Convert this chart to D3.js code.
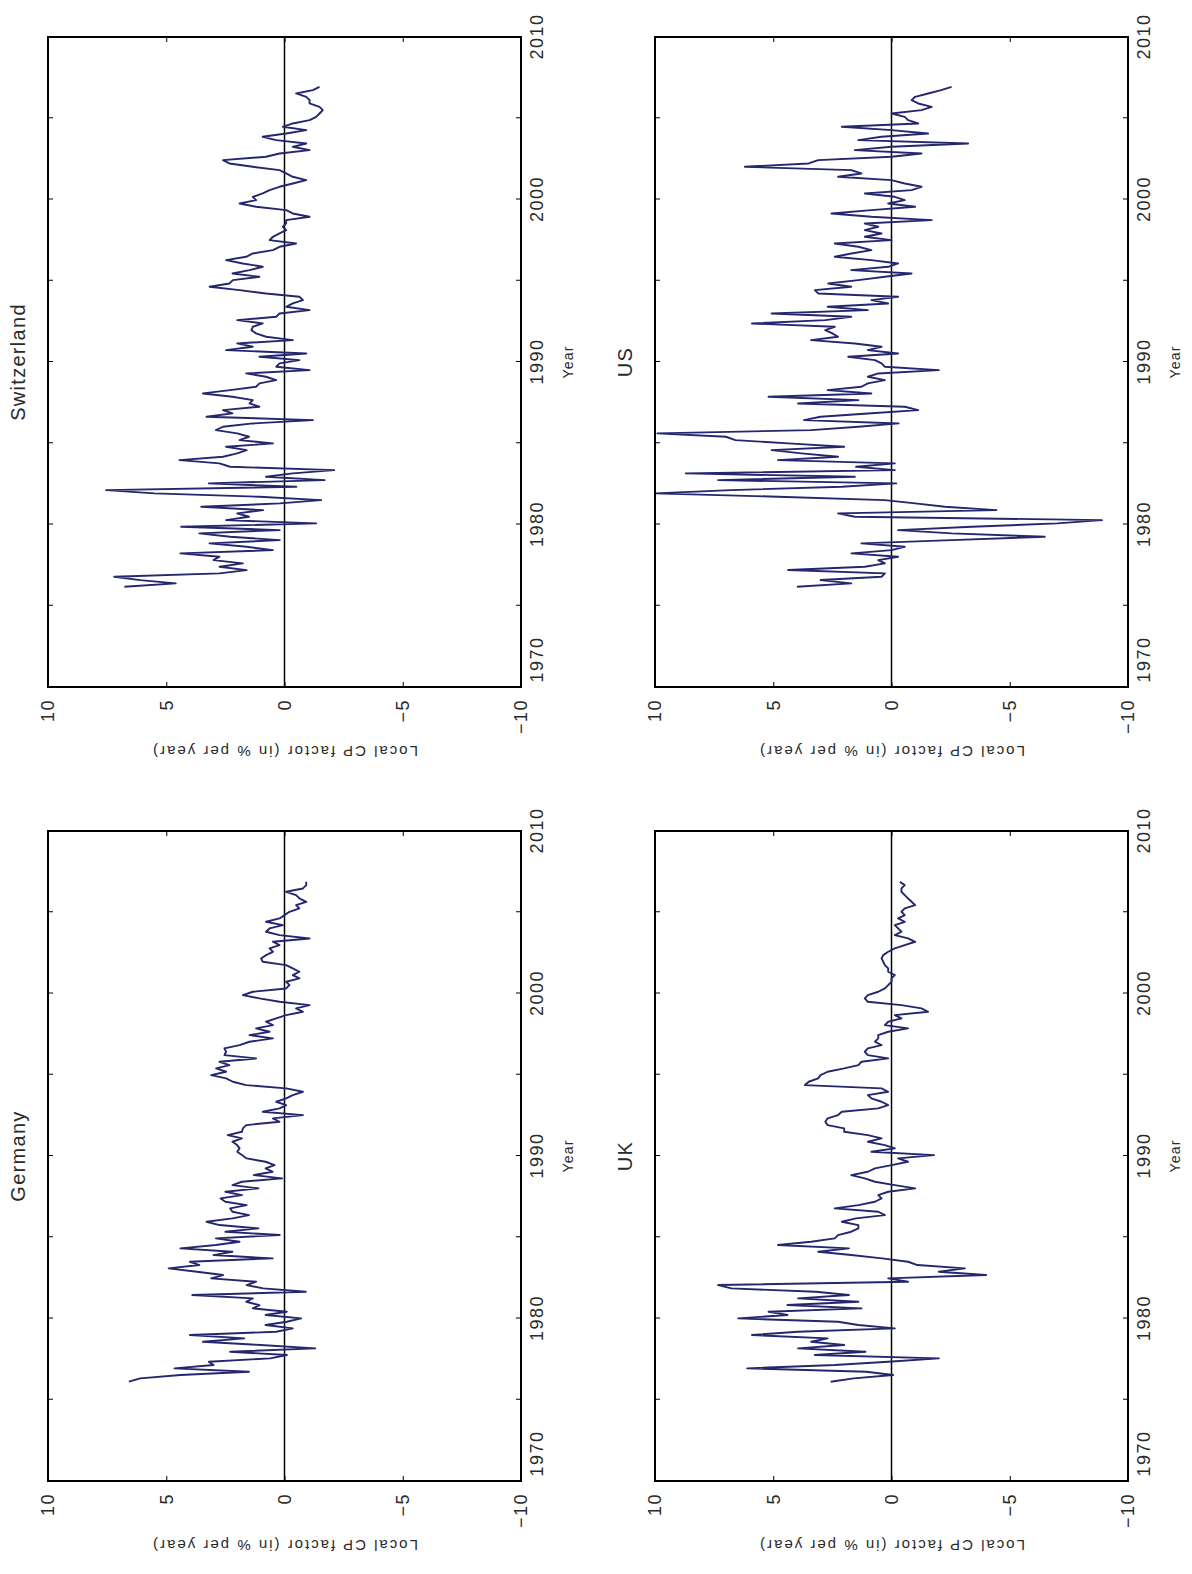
<!DOCTYPE html>
<html>
<head>
<meta charset="utf-8">
<script src="https://cdn.jsdelivr.net/npm/d3@7"></script>
<style>
  body { margin: 0; background: #fff; }
  text { font-family: "Liberation Sans", Arial, sans-serif; fill: #2a2a2a; }
</style>
</head>
<body>
<script>
// local CP factor, % per year, sampled about every 0.205 years
var germany = [6.58, 6.1, 4.4, 1.5, 4.65, 3.0, 3.2, 0.6, -0.1, 2.3, -1.3, 1.0, 3.45, 1.7, 4.0, 0.35, -0.35, 0.8, -0.1, -0.7,
  0.8, -0.1, 1.34, 1.06, 1.62, 1.34, 3.9, -0.9, 0.9, 1.6, 1.2, 3.1, 2.6, 3.7, 4.9, 3.6, 4.0, 0.5, 3.0, 2.2,
  4.4, 2.9, 1.9, 2.9, 0.2, 2.5, 1.1, 2.75, 3.3, 2.2, 1.5, 2.2, 2.3, 1.6, 2.5, 2.7, 1.8, 2.5, 1.1, 2.2,
  1.8, 0.1, 1.3, 0.5, 0.8, 0.42, 0.8, 1.6, 1.8, 2.0, 1.9, 2.0, 2.2, 1.8, 2.4, 1.8,
  1.76, 1.62, 0.21, 0.49, -0.78, 0.92, 0.21, -0.07, 0.35, -0.07, -0.35, -0.78, -0.07, 1.62, 2.18, 2.47, 3.10, 2.47, 2.89, 2.33,
  2.75, 1.20, 2.54, 2.47, 2.54, 1.90, 1.48, 0.49, 1.48, 0.63, 1.20, 0.49, 0.78, 0.35, -0.07, -0.78, -0.49, -1.06, 0.21, 1.06,
  1.76, 1.34, -0.07, -0.21, -0.07, -0.63, -0.35, -0.63, -0.35, -0.07, 0.92, 0.99, 0.78, 0.49, 0.63, 0.21, 0.49, -1.06, 0.21, 0.78,
  0.63, 0.07, 0.78, 0.21, 0, -0.21, -0.63, -0.49, -0.92, -0.63, -0.49, -0.07, -0.78, -0.92, -0.92];

var switzerland = [6.77, 4.6, 6.1, 7.2, 2.75, 1.6, 2.75, 1.76, 3.0, 2.75, 4.4, 0.49, 1.6, 3.17, 0.2, 2.3, 3.6, 0.2, 4.37, -1.34,
  2.47, 1.5, 2.0, 0.9, 3.52, 0.2, -1.55, 1.06, 5.5, 7.54, -0.5, 3.2, -1.7, 0.78, -0.35, -2.1, 2.3, 2.75, 4.44, 2.6,
  2.0, 1.6, 2.47, 0.49, 1.9, 1.5, 2.0, 2.9, 2.6, 1.34, -1.2, 3.3, 2.2, 2.6, 1.06, 1.48, 1.34, 2.2, 3.45, 2.3,
  1.2, 1.06, 0.35, 0.78, 1.62, -1.06, 0.35, 0.21, -0.63, 1.06, -0.92, 2.47, 1.34, 2.0, -0.35, 0.78, 1.2, 1.4,
  1.34, 0.92, 2.0, 0.35, 0.21, -1.06, -0.07, -0.35, -0.78, -0.63, 0.78, 1.9, 3.17, 2.33, 2.18, 1.06, 2.2, 1.48, 0.92, 1.76,
  2.47, 1.62, 1.34, 0.49, 0.21, -0.49, 0.63, 0.49, 0.21, -0.07, 0.07, -0.07, -0.07, -1.06, -0.35, -0.07, 1.2, 1.9, 1.2, 1.34,
  0.92, 0.63, 0.21, -0.35, -0.92, -0.35, -0.07, 0.21, 1.34, 2.33, 2.6, 0.78, 0.21, -1.06, -0.35, -0.92, 0.35, 0.92, -0.07, -0.92,
  0.07, -0.35, -1.06, -1.34, -1.48, -1.62, -1.48, -1.06, -1.06, -0.92, -0.49, -1.2, -1.48];

var uk = [2.57, 1.6, -0.07, 1.06, 6.1, 2.4, 0.14, -2.0, 3.24, 1.1, 3.95, 2.0, 3.4, 2.7, 5.9, 3.95, -0.14, 1.4, 2.26, 6.48,
  4.4, 5.2, 1.27, 4.4, 1.4, 3.95, 1.8, 3.2, 6.77, 7.33, -0.7, 0.14, -4.0, -2.0, -3.1, -1.1, -0.7, 0.4, 1.7, 3.1,
  1.8, 4.8, 3.4, 2.4, 2.26, 1.7, 1.4, 1.4, 2.1, 1.5, 0.28, 0.56, 2.4, 1.4, 0.7, 0.42, 0.56, 0.14, -1.0, -0.14,
  0.70, 1.13, 1.7, 1.0, 0.7, 0, -0.7, -0.28, -1.8, 0.85, -0.14, 0.28, 1.0, 0.42, 1.0, 2.0,
  2.0, 2.7, 2.8, 2.7, 2.26, 2.1, 0.56, 0.14, 0.42, 0.85, 1.0, 0.14, 0.42, 3.66, 3.5, 3.1, 3.0, 2.7, 2.0, 1.4,
  1.27, 0.14, 1.0, 1.13, 1.0, 0.42, 0.7, 0.56, 0.56, 0.14, -0.7, 0.28, 0.14, -0.42, -0.14, -1.55, -1.27, -0.42, 1.0, 1.13,
  1.0, 0.56, 0.28, 0.14, 0, 0, -0.14, 0.14, 0.14, 0.28, 0.35, 0.42, 0.35, 0.14, -0.14, -0.56, -1.0, -0.7, -0.14, -0.42,
  -0.28, -0.14, -0.56, -0.28, -0.56, -0.42, -0.56, -1.0, -0.85, -0.7, -0.56, -0.42, -0.42, -0.56, -0.35];

var us = [4.0, 1.7, 3.0, 0.42, 0.28, 4.37, 1.13, 0.28, 0.56, -0.28, 1.69, 0, -0.56, 1.27, -2.54, -6.48, -2.54, -0.28, -3.4, -7.0,
  -8.9, 1.55, 2.26, -4.44, -2.26, -1.0, 0.28, 4.8, 10, 6.8, 2.1, -0.2, 7.33, 1.55, 8.7, -0.14, 1.5, -0.14, 4.8, 2.26,
  3.8, 5.07, 2.0, 4.37, 6.6, 7.0, 9.9, 3.4, 1.4, -0.3, 3.7, 3.0, 1.0, -1.13, -0.56, 3.95, 1.4, 5.2, 0.85, 2.7,
  1.27, 1.0, 0.28, 1.0, 0.56, -2.0, 0.28, 0.42, 0.7, 1.83, -0.28, 1.0, 0.42, 1.55, 3.4, 2.26, 2.5, 2.8,
  2.4, 5.9, 2.8, 1.7, 5.07, 1.0, 2.7, 0.14, 0.85, -0.28, 3.1, 3.24, 1.7, 2.68, 1.4, 0.28, -0.85, 1.7, 0.14, -0.28,
  0.85, 2.4, 1.7, 0.85, 1.4, 2.4, 0, 1.13, 0.42, 1.13, 0.56, 1.13, -1.7, 0.85, 2.54, 0.85, -1.0, 0.14, -0.56, -0.14,
  1.13, -0.85, -1.27, -0.56, 0, 2.26, 1.27, 1.7, 6.2, 3.5, 3.1, 0, -1.27, 1.55, 0, -3.24, 1.4, 0.42, -1.55, 0,
  2.1, -1.13, -0.7, -0.56, 0, -1.27, -1.7, -1.13, -0.85, -1.0, -1.55, -2.1, -2.54];

var countries = ["Germany", "Switzerland", "UK", "US"];
var firstYear = [1976.11, 1976.17, 1976.11, 1976.17];
var yearStep = 0.2051;
var yearTicks = [1970, 1975, 1980, 1985, 1990, 1995, 2000, 2005, 2010];
var valueTicks = [-10, -5, 0, 5, 10];

var pageW = 1192, pageH = 1574;
var svg = d3.select("body").append("svg")
  .attr("width", pageW)
  .attr("height", pageH);

// the figure is laid out landscape and then turned onto its side
var fig = svg.append("g")
  .attr("transform", `translate(0, ${pageH}) rotate(-90)`);

var plotW = 650, plotH = 473;
var origins = [[93, 48], [887, 48], [93, 655], [887, 655]];
var series = [germany, switzerland, uk, us];

countries.forEach(function(name, i) {
  var data = series[i].map(function(v, k) { return {t: firstYear[i] + k * yearStep, v: v}; });

  var x = d3.scaleLinear().domain([1970, 2010]).range([0, plotW]);
  var y = d3.scaleLinear().domain([-10, 10]).range([plotH, 0]);

  var g = fig.append("g")
    .attr("transform", `translate(${origins[i][0]}, ${origins[i][1]})`);

  var bottom = g.append("g")
    .attr("transform", `translate(0, ${plotH})`)
    .call(d3.axisBottom(x).tickValues(yearTicks).tickSizeInner(-5).tickSizeOuter(0).tickPadding(9)
      .tickFormat(d => d % 10 === 0 ? d : ""));
  bottom.selectAll("text").filter(d => d === 1970).attr("dx", 27);

  g.append("g")
    .call(d3.axisTop(x).tickValues(yearTicks).tickSizeInner(-5).tickSizeOuter(0).tickFormat(""));

  g.append("g")
    .call(d3.axisLeft(y).tickValues(valueTicks).tickSizeInner(-5).tickSizeOuter(0).tickPadding(12)
      .tickFormat(d => d < 0 ? "\u2212" + (-d) : d));

  g.append("g")
    .attr("transform", `translate(${plotW}, 0)`)
    .call(d3.axisRight(y).tickValues(valueTicks).tickSizeInner(-5).tickSizeOuter(0).tickFormat(""));

  g.selectAll(".domain").remove();
  g.selectAll(".tick line").attr("stroke", "#000").attr("stroke-width", 1);
  g.selectAll(".tick text")
    .attr("font-family", "Liberation Sans, Arial, sans-serif")
    .attr("font-size", 18)
    .attr("letter-spacing", "1.5px")
    .attr("fill", "#2a2a2a");

  // zero line
  g.append("line")
    .attr("x1", x(1970)).attr("x2", x(2010))
    .attr("y1", y(0)).attr("y2", y(0))
    .attr("stroke", "#000")
    .attr("stroke-width", 1.5);

  var line = d3.line()
    .x(d => x(d.t))
    .y(d => y(d.v));

  g.append("path")
    .datum(data)
    .attr("d", line)
    .attr("fill", "none")
    .attr("stroke", "#24266e")
    .attr("stroke-width", 1.9)
    .attr("stroke-linejoin", "round");

  g.append("rect")
    .attr("width", plotW)
    .attr("height", plotH)
    .attr("fill", "none")
    .attr("stroke", "#000")
    .attr("stroke-width", 2);

  g.append("text")
    .attr("class", "lbl")
    .attr("x", plotW / 2)
    .attr("y", -23)
    .attr("text-anchor", "middle")
    .attr("font-size", 20)
    .attr("letter-spacing", "1.3px")
    .text(name);

  g.append("text")
    .attr("class", "lbl")
    .attr("x", plotW / 2)
    .attr("y", plotH + 52)
    .attr("text-anchor", "middle")
    .attr("font-size", 14)
    .attr("letter-spacing", "1.2px")
    .text("Year");

  g.append("text")
    .attr("class", "lbl")
    .attr("transform", `translate(-64, ${plotH / 2}) rotate(-90)`)
    .attr("dy", "0.35em")
    .attr("text-anchor", "middle")
    .attr("font-size", 15)
    .attr("letter-spacing", "2px")
    .text("Local CP factor (in % per year)");
});
</script>
</body>
</html>
